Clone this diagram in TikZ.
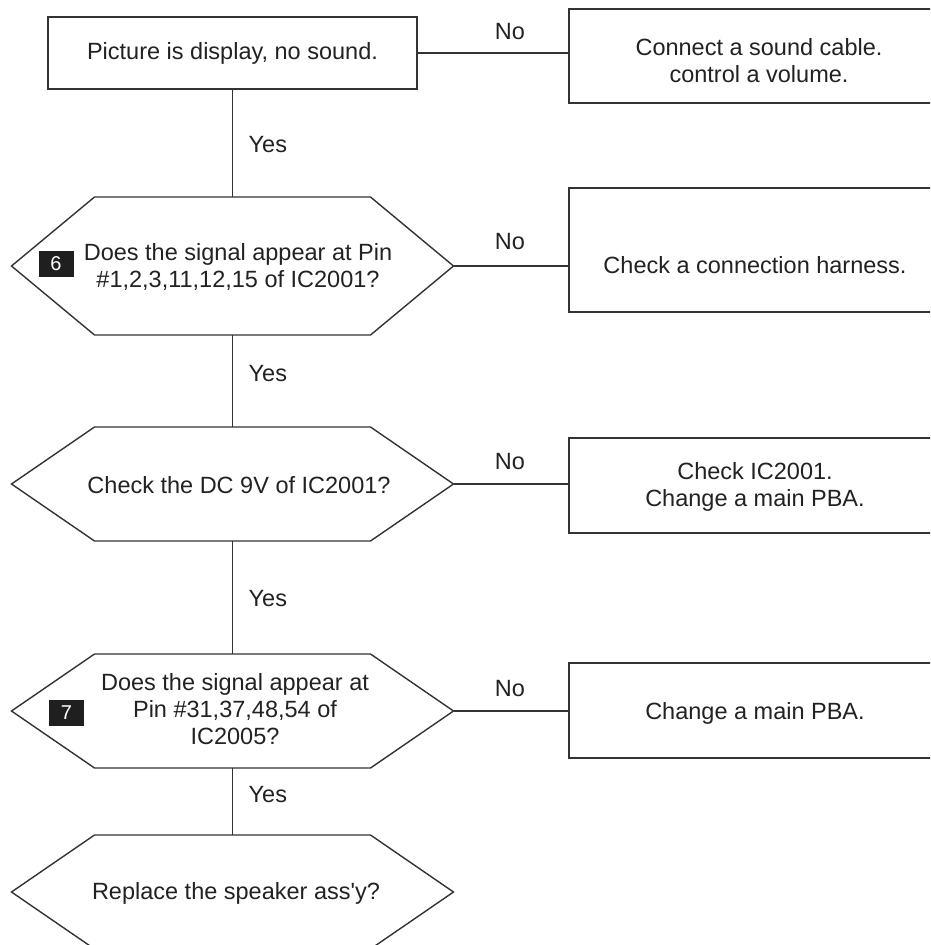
\documentclass[tikz,border=0pt]{standalone}
\usepackage{fontspec}
\setmainfont{Liberation Sans}[Ligatures=TeXOff]
\usetikzlibrary{calc}
\definecolor{ln}{HTML}{333333}
\definecolor{tx}{HTML}{222222}
\newcommand\hexshape[3]{%
  \coordinate (#1) at (#2);
  \draw[ln] ($(#1)+(-221,0)$) -- ($(#1)+(-138,-#3)$) -- ($(#1)+(138,-#3)$) -- ($(#1)+(221,0)$) -- ($(#1)+(138,#3)$) -- ($(#1)+(-138,#3)$) -- cycle;
  \coordinate (#1-t) at ($(#1)+(0,-#3)$);
  \coordinate (#1-b) at ($(#1)+(0,#3)$);
  \coordinate (#1-r) at ($(#1)+(221,0)$);}
\begin{document}
\begin{tikzpicture}[x=1pt,y=-1pt,line width=1.4pt,
  every node/.style={font=\fontsize{23.5}{27}\selectfont, text=tx},
  txt/.style={align=center, inner sep=0pt},
  rbox/.style={draw=ln, minimum width=372pt, inner sep=0pt},
  badge/.style={fill=black!88, text=white, minimum width=35pt, minimum height=26pt, inner sep=0pt, font=\fontsize{20}{20}\selectfont},
  lbl/.style={inner sep=0pt}]
\useasboundingbox (0,0) rectangle (930,945);
\clip (0,0) rectangle (930,945);
\fill[white] (0,0) rectangle (930,945);

% start box
\node[draw=ln, minimum width=369pt, minimum height=72pt, inner sep=0pt] (start) at (232.5,53) {Picture is display, no sound.};

% hexagons
\hexshape{h1}{232.5,266}{69}
\hexshape{h2}{232.5,484}{57}
\hexshape{h3}{232.5,711}{57}
\hexshape{h4}{232.5,892}{57}

\node[txt] (q1) at (238,267) {Does the signal appear at Pin\\\#1,2,3,11,12,15 of IC2001?};
\node[badge] (n6) at (56,264) {6};
\node[txt] (q2) at (239,485) {Check the DC 9V of IC2001?};
\node[txt] (q3) at (235,709) {Does the signal appear at\\Pin \#31,37,48,54 of\\IC2005?};
\node[badge] (n7) at (66.5,712.5) {7};
\node[txt] (q4) at (236,893) {Replace the speaker ass'y?};

% right boxes
\node[rbox, minimum height=94pt] (b1) at (755,56) {};
\node[txt] (t1) at (759,61) {Connect a sound cable.\\control a volume.};
\node[rbox, minimum height=124pt] (b2) at (755,250) {};
\node[txt] (t2) at (755,265) {Check a connection harness.};
\node[rbox, minimum height=95pt] (b3) at (755,485.5) {};
\node[txt] (t3) at (755,487) {Check IC2001.\\Change a main PBA.};
\node[rbox, minimum height=95pt] (b4) at (755,710.5) {};
\node[txt] (t4) at (755,713) {Change a main PBA.};

% connectors
\draw[ln] (start.south) -- (h1-t);
\draw[ln] (h1-b) -- (h2-t);
\draw[ln] (h2-b) -- (h3-t);
\draw[ln] (h3-b) -- (h4-t);
\draw[ln] (start.east) -- (start.east -| b1.west);
\draw[ln] (h1-r) -- (h1-r -| b2.west);
\draw[ln] (h2-r) -- (h2-r -| b3.west);
\draw[ln] (h3-r) -- (h3-r -| b4.west);

% labels
\node[lbl, anchor=west] (y1) at (248,145) {Yes};
\node[lbl, anchor=west] (y2) at (248,374) {Yes};
\node[lbl, anchor=west] (y3) at (248,599) {Yes};
\node[lbl, anchor=west] (y4) at (248,795) {Yes};
\node[lbl] (no1) at (510,32) {No};
\node[lbl] (no2) at (510,242) {No};
\node[lbl] (no3) at (510,462) {No};
\node[lbl] (no4) at (510,689) {No};
\end{tikzpicture}
\end{document}
